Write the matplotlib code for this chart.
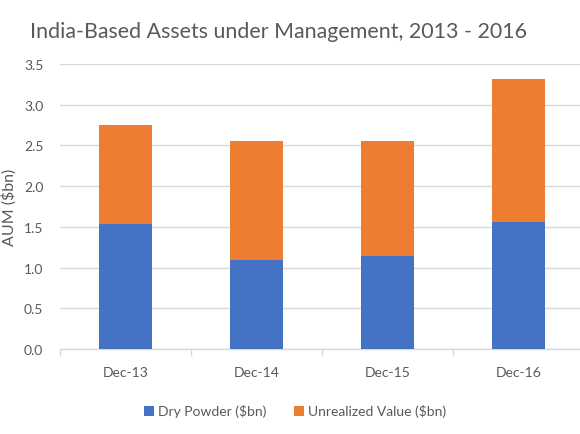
import matplotlib
matplotlib.use("Agg")
import matplotlib.pyplot as plt
import numpy as np

plt.rcParams['font.family'] = ['Lato', 'DejaVu Sans']

# данные
periods = ["Dec-13", "Dec-14", "Dec-15", "Dec-16"]
dry_powder = [1.53, 1.09, 1.14, 1.56]
unrealized = [1.22, 1.46, 1.42, 1.75]
series_names = ["Dry Powder ($bn)", "Unrealized Value ($bn)"]
y_ticks = [0.0, 0.5, 1.0, 1.5, 2.0, 2.5, 3.0, 3.5]

blue = "#4472C4"
orange = "#ED7D31"
grey_text = "#595959"
grid_col = "#D9D9D9"

fig = plt.figure(figsize=(5.8, 4.35), dpi=100)
ax = fig.add_axes([60/580, 85/435, 524/580, 285/435])

x = np.arange(len(periods))
ax.bar(x, dry_powder, width=0.405, color=blue, label=series_names[0], zorder=3)
ax.bar(x, unrealized, width=0.405, bottom=dry_powder, color=orange,
       label=series_names[1], zorder=3)

ax.set_xlim(-0.5, len(periods) - 0.5)
ax.set_ylim(0, 3.5)
ax.set_yticks(y_ticks)
ax.set_yticklabels([f"{v:.1f}" for v in y_ticks])
ax.set_xticks(x)
ax.set_xticklabels(periods)
ax.set_xticks(np.arange(len(periods) + 1) - 0.5, minor=True)

ax.tick_params(axis='x', which='major', length=0, pad=12, labelsize=10, labelcolor=grey_text)
ax.tick_params(axis='x', which='minor', length=5, color=grid_col, width=1)
ax.tick_params(axis='y', length=0, pad=12, labelsize=10, labelcolor=grey_text)

ax.grid(axis='y', color=grid_col, linewidth=1, zorder=0)
for side in ['top', 'right', 'left']:
    ax.spines[side].set_visible(False)
ax.spines['bottom'].set_color(grid_col)
ax.spines['bottom'].set_linewidth(1)

ax.set_ylabel("AUM ($bn)", fontsize=11.5, color=grey_text, labelpad=5)

fig.text(30/580, 1 - 32/435, "India-Based Assets under Management, 2013 - 2016",
         fontsize=15.4, color=grey_text, va='center', ha='left')

ax.legend(loc='center', bbox_to_anchor=(0.5 - 27/524, -62/285), ncol=2, frameon=False,
          fontsize=10, labelcolor=grey_text, handlelength=0.7, handleheight=0.7,
          handletextpad=0.3, columnspacing=2.0)

fig.savefig("out.png", dpi=100)
